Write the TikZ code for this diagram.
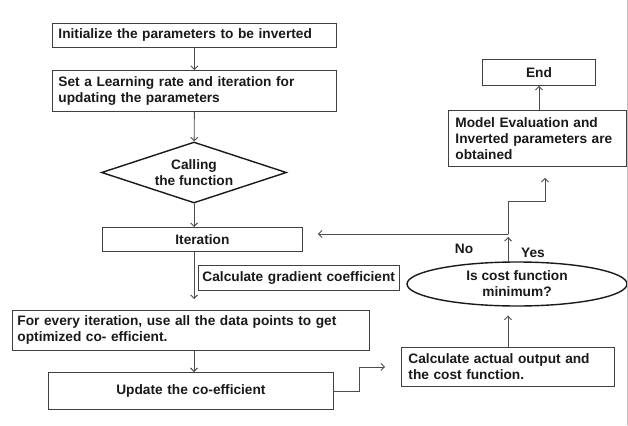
\documentclass[tikz,border=0pt]{standalone}
\usepackage{fontspec}
\setmainfont{Liberation Sans}
\usetikzlibrary{shapes.geometric,arrows.meta}

\begin{document}
\begin{tikzpicture}[x=1pt,y=-1pt,line cap=round]
% Configurable parameters
\def\boxw{284pt}
\def\stem{194}

% Styles
\tikzstyle{every node}=[font=\fontsize{13.7}{16}\selectfont\bfseries, text=black!90]
\tikzstyle{stepbox}=[draw=black!75, line width=0.9pt, rectangle, anchor=north west, inner ysep=0pt, inner xsep=6pt, align=left]
\tikzstyle{centerbox}=[stepbox, align=center]
\tikzstyle{decision}=[draw=black!90, line width=1.4pt, diamond, aspect=3, inner sep=0pt, align=center, minimum width=185pt, minimum height=61pt]
\tikzstyle{test}=[draw=black!90, line width=1.4pt, ellipse, inner sep=0pt, align=center, minimum width=220pt, minimum height=44pt]
\tikzstyle{flow}=[draw=black!70, line width=0.9pt, -{Straight Barb[length=3.5pt,width=7pt]}]

\useasboundingbox (0,0) rectangle (628,425);

% Left column of steps.
\node[stepbox, text width=272pt, minimum height=24pt] (init) at (52,23) {Initialize the parameters to be inverted};
\node[stepbox, text width=272pt, minimum height=41pt] (setlr) at (52,70) {Set a Learning rate and iteration for\\updating the parameters};
\node[decision] (call) at (\stem,172.5) {Calling\\the function};
\node[centerbox, text width=188pt, minimum height=24pt] (iter) at (102,227) {Iteration};
\node[stepbox, inner xsep=4pt, text width=193pt, minimum height=25pt] (grad) at (198,265) {Calculate gradient coefficient};
\node[stepbox, inner xsep=5pt, text width=347pt, minimum height=40pt] (every) at (12,310) {For every iteration, use all the data points to get\\optimized co- efficient.};
\node[centerbox, text width=273pt, minimum height=37pt] (update) at (48,372) {Update the co-efficient};

% Right column of steps.
\node[stepbox, inner xsep=7pt, text width=199pt, minimum height=39pt] (calc) at (401,347) {Calculate actual output and\\the cost function.};
\node[test] (cost) at (517,284) {Is cost function\\minimum?};
\node[stepbox, inner xsep=7pt, text width=164pt, minimum height=56pt] (model) at (448,110) {Model Evaluation and\\Inverted parameters are\\obtained};
\node[centerbox, text width=101pt, minimum height=26pt] (end) at (482,59) {End};

% Branch points.
\coordinate (split) at (508,234);	% Where the Yes and No lines part.
\coordinate (bend) at (545,201);	% Step of the line up to the model box.

% Connectors down the left column.
\draw[flow] (init) -- (setlr);
\draw[flow] (setlr) -- (call);
\draw[flow] (call.south) -- (call.south |- iter.north);
\draw[flow, shorten >=11pt] (call.south |- iter.south) -- (call.south |- every.north);
\draw[flow] (call.south |- every.south) -- (call.south |- update.north);
\draw[flow, shorten >=16pt] (update.east) -- ++(26,0) |- (calc.west);

% Connectors up the right column.
\draw[flow, shorten >=9pt] (calc.north -| split) -- (cost.south -| split);
\draw[flow, shorten >=3pt] (cost.north -| split) -- (split);
\draw[flow, shorten >=15pt] (split) -- (split -| iter.east);
\draw[flow, shorten >=11pt] (split) |- (bend) -- (bend |- model.south);
\draw[flow] (end |- model.north) -- (end.south);

% Labels of the test.
\node (no) at (464,249) {No};
\node (yes) at (533,253) {Yes};

% Page edge.
\draw[black!25, line width=1pt] (627,0) -- (627,425);
\end{tikzpicture}
\end{document}
